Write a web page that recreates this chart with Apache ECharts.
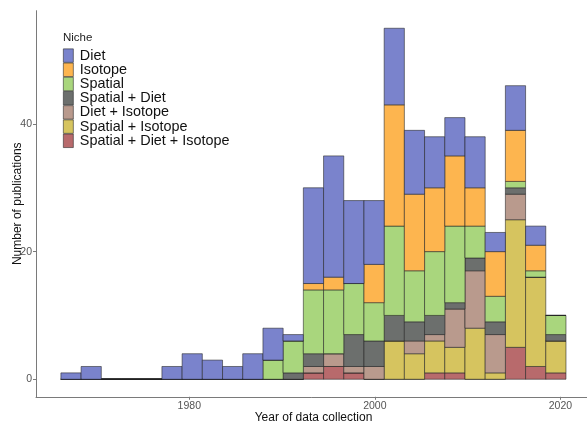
<!DOCTYPE html>
<html><head><meta charset="utf-8">
<script src="https://cdn.jsdelivr.net/npm/echarts@6/dist/echarts.min.js"></script>
<style>html,body{margin:0;padding:0;background:#fff}#c{width:587px;height:423px}</style>
</head><body><div id="c"></div>
<script>
// Histogram bins (years)
const binStart = 1966.16;
const binWidth = 2.1778;
// Legend order (top of stack first)
const categories = ['Diet', 'Isotope', 'Spatial', 'Spatial + Diet', 'Diet + Isotope', 'Spatial + Isotope', 'Spatial + Diet + Isotope'];
// Counts per bin (25 bins)
const diet           = [1,2,0,0,0,2,4,3,2,4,5,1,15,19,13,10,12,10,8,6,8,3,7,3,0];
const isotope        = [0,0,0,0,0,0,0,0,0,0,0,0,1,2,0,6,19,12,10,11,6,7,8,4,0];
const spatial        = [0,0,0,0,0,0,0,0,0,0,3,5,10,10,8,6,14,8,10,12,5,4,1,1,3];
const spatialDiet    = [0,0,0,0,0,0,0,0,0,0,0,1,2,0,5,4,4,3,3,1,2,2,1,0,1];
const dietIsotope    = [0,0,0,0,0,0,0,0,0,0,0,0,1,2,1,2,0,2,1,6,9,6,4,0,0];
const spatialIsotope = [0,0,0,0,0,0,0,0,0,0,0,0,0,0,0,0,6,4,5,4,8,1,20,14,5];
const spatialDietIsotope = [0,0,0,0,0,0,0,0,0,0,0,0,1,2,1,0,0,0,1,1,0,0,5,2,1];
const xTicks = [1980, 2000, 2020];
const yTicks = [0, 20, 40];

const valuesByCat = {
  'Diet': diet, 'Isotope': isotope, 'Spatial': spatial, 'Spatial + Diet': spatialDiet,
  'Diet + Isotope': dietIsotope, 'Spatial + Isotope': spatialIsotope, 'Spatial + Diet + Isotope': spatialDietIsotope
};
const colors = {
  'Diet': '#7A83CC', 'Isotope': '#FDB54F', 'Spatial': '#A9D67D', 'Spatial + Diet': '#6C6F6D',
  'Diet + Isotope': '#B99A8D', 'Spatial + Isotope': '#D6C45F', 'Spatial + Diet + Isotope': '#B86A6C'
};
const FONT = '"Liberation Sans", Arial, Helvetica, sans-serif';
const STROKE = 'rgba(35,35,35,0.8)';

// build stacked series, bottom-up (last category at bottom)
const stackOrder = categories.slice().reverse();
const base = diet.map(() => 0);
const series = stackOrder.map(name => {
  const vals = valuesByCat[name];
  const data = vals.map((v, i) => {
    const x0 = binStart + i * binWidth, x1 = x0 + binWidth;
    const item = [x0, x1, base[i], base[i] + v];
    base[i] += v;
    return item;
  });
  return {
    name: name,
    type: 'custom',
    clip: false,
    encode: { x: [0, 1], y: [2, 3] },
    itemStyle: { color: colors[name], borderColor: STROKE, borderWidth: 0.7 },
    renderItem: function (params, api) {
      const p0 = api.coord([api.value(0), api.value(2)]);
      const p1 = api.coord([api.value(1), api.value(3)]);
      return {
        type: 'rect',
        shape: { x: p0[0], y: p1[1], width: p1[0] - p0[0], height: p0[1] - p1[1] },
        style: { fill: colors[name], stroke: STROKE, lineWidth: 0.7 }
      };
    },
    data: data
  };
});

const chart = echarts.init(document.getElementById('c'), null, { renderer: 'canvas' });
chart.setOption({
  animation: false,
  backgroundColor: '#fff',
  textStyle: { fontFamily: FONT },
  title: {
    text: 'Niche', left: 63, top: 32, padding: 0,
    textStyle: { fontSize: 11.5, fontWeight: 'normal', color: '#222', fontFamily: FONT }
  },
  legend: {
    data: categories,
    orient: 'vertical', left: 63, top: 48.5, padding: 0,
    itemWidth: 10, itemHeight: 13.5, itemGap: 0, icon: 'rect',
    itemStyle: { borderColor: STROKE, borderWidth: 0.7 },
    textStyle: { fontSize: 14.4, lineHeight: 13.5, color: '#111', fontFamily: FONT, padding: [0, 0, 0, 1.5] }
  },
  grid: { left: 36, right: -4, top: 10.7, bottom: 26.2, containLabel: false, outerBoundsMode: 'none' },
  xAxis: {
    type: 'value', min: 1963.476, max: 2023.3,
    name: 'Year of data collection', nameLocation: 'middle', nameGap: 15, nameMoveOverlap: false,
    nameTextStyle: { fontSize: 12, color: '#111', fontFamily: FONT },
    axisLine: { onZero: false, lineStyle: { color: '#7a7a7a', width: 1 } },
    axisTick: { show: true, length: 3, customValues: xTicks, lineStyle: { color: '#7a7a7a' } },
    axisLabel: { customValues: xTicks, formatter: v => String(v), fontSize: 10.5, color: '#555', margin: 4, fontFamily: FONT },
    splitLine: { show: false }
  },
  yAxis: {
    type: 'value', min: -2.75, max: 57.75,
    name: 'Number of publications', nameLocation: 'middle', nameGap: 12.5, nameRotate: 90, nameMoveOverlap: false,
    nameTextStyle: { fontSize: 12, color: '#111', fontFamily: FONT },
    axisLine: { show: true, onZero: false, lineStyle: { color: '#7a7a7a', width: 1 } },
    axisTick: { show: true, length: 3, customValues: yTicks, lineStyle: { color: '#7a7a7a' } },
    axisLabel: { customValues: yTicks, formatter: v => String(v), fontSize: 10.5, color: '#555', margin: 4, fontFamily: FONT },
    splitLine: { show: false }
  },
  series: series
});
</script></body></html>
